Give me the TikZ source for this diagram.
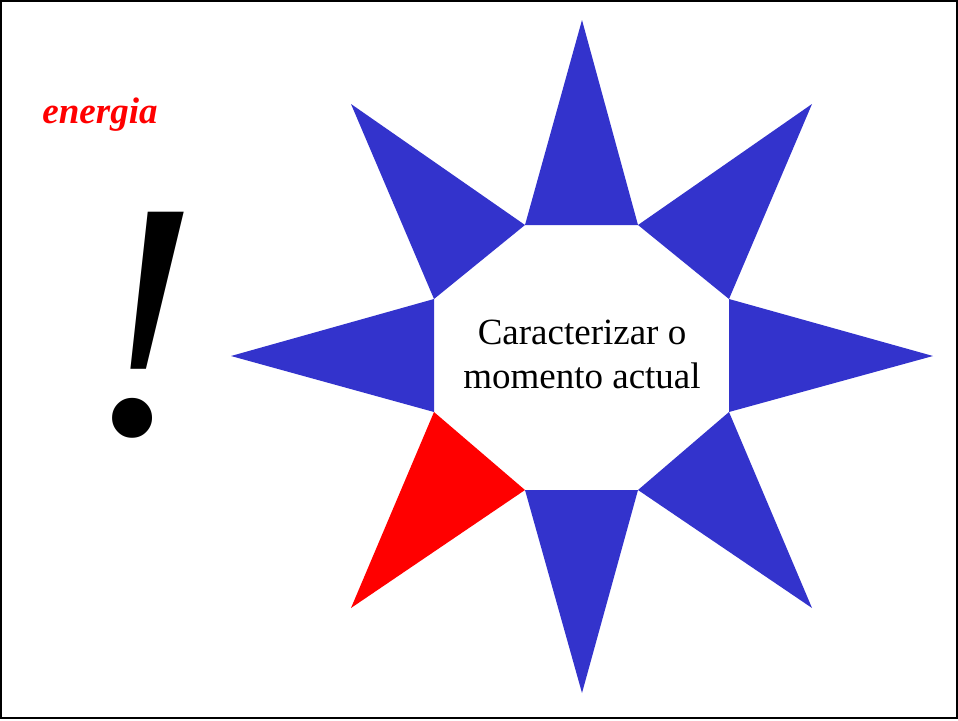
\documentclass[tikz,border=0pt]{standalone}
\usepackage{fontspec}
\setmainfont{Liberation Serif}
\definecolor{starblue}{RGB}{51,51,204}
\begin{document}
\begin{tikzpicture}[x=1pt,y=-1pt,
  ray/.style={fill=starblue},
  hot/.style={fill=red}]
\useasboundingbox (0,0) rectangle (958,720);
\draw[line width=2pt] (1,1) rectangle (957,718);
% octagon corners
\coordinate (o1) at (525,225);
\coordinate (o2) at (638,225);
\coordinate (o3) at (729,299);
\coordinate (o4) at (729,412);
\coordinate (o5) at (638,490);
\coordinate (o6) at (525,490);
\coordinate (o7) at (434,412);
\coordinate (o8) at (434,299);
% tips
\coordinate (tN) at (582,20);
\coordinate (tNE) at (812,104);
\coordinate (tE) at (933,356);
\coordinate (tSE) at (812,608);
\coordinate (tS) at (582,693);
\coordinate (tSW) at (351,608);
\coordinate (tW) at (231,356);
\coordinate (tNW) at (351,104);
\fill[ray] (o1) -- (o2) -- (tN) -- cycle;
\fill[ray] (o2) -- (o3) -- (tNE) -- cycle;
\fill[ray] (o3) -- (o4) -- (tE) -- cycle;
\fill[ray] (o4) -- (o5) -- (tSE) -- cycle;
\fill[ray] (o5) -- (o6) -- (tS) -- cycle;
\fill[hot] (o6) -- (o7) -- (tSW) -- cycle;
\fill[ray] (o7) -- (o8) -- (tW) -- cycle;
\fill[ray] (o8) -- (o1) -- (tNW) -- cycle;
\node[inner sep=0pt, align=center, font=\fontsize{37}{44}\selectfont] (centre) at (582,354) {Caracterizar o\\momento actual};
\node[inner sep=0pt, anchor=base, text=red, font=\fontsize{37}{44}\selectfont\bfseries\itshape] (energia) at (100,123) {energia};
\node[inner sep=0pt, anchor=base, font=\fontsize{338}{338}\selectfont\itshape] (bang) at (143,433) {!};
\end{tikzpicture}
\end{document}
